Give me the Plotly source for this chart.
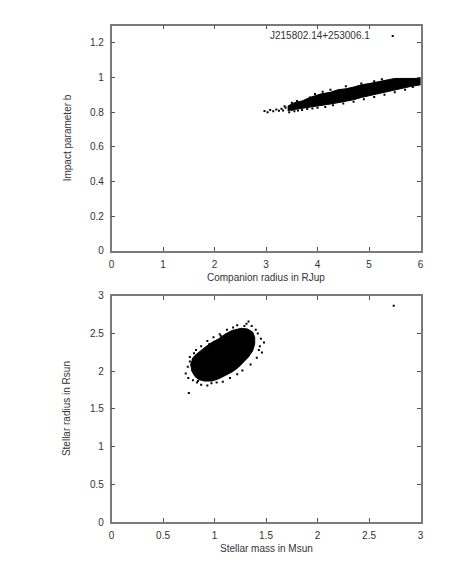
import plotly.graph_objects as go

# ---- data ----
# top panel: outline of the dense core of the (companion radius, impact parameter) cloud
core_r = [3.42, 3.55, 3.7, 3.85, 4.06, 4.25, 4.4, 4.55, 4.7, 4.85, 5.0, 5.15, 5.33, 5.5, 6.0,
          6.0, 5.8, 5.6, 5.33, 5.15, 5.0, 4.85, 4.7, 4.55, 4.4, 4.2, 4.06, 3.85, 3.7, 3.55, 3.42]
core_b = [0.835, 0.855, 0.865, 0.885, 0.905, 0.915, 0.93, 0.935, 0.945, 0.958, 0.965, 0.975,
          0.985, 0.995, 0.995,
          0.958, 0.948, 0.935, 0.915, 0.905, 0.895, 0.885, 0.872, 0.862, 0.855, 0.845,
          0.838, 0.83, 0.822, 0.815, 0.81]
# top panel: sparse samples outside the core
sparse_r = [2.97, 3.03, 3.08, 3.14, 3.2, 3.25, 3.3, 3.33, 3.38, 3.36, 3.45, 3.5, 3.55,
            3.62, 3.7, 3.8, 3.9, 4.0, 4.15, 4.3, 4.5, 4.7, 4.9, 5.1, 5.3, 5.5, 5.7,
            5.85, 3.6, 3.85, 4.1, 4.25, 4.55, 4.85, 5.1, 5.25, 3.5, 3.95, 5.46]
sparse_b = [0.807, 0.80, 0.812, 0.805, 0.815, 0.808, 0.82, 0.81, 0.825, 0.835, 0.80,
            0.812, 0.805, 0.81, 0.812, 0.818, 0.822, 0.826, 0.83, 0.84, 0.85, 0.86,
            0.875, 0.888, 0.9, 0.915, 0.93, 0.945, 0.865, 0.885, 0.918, 0.93, 0.95,
            0.965, 0.978, 0.99, 0.855, 0.905, 1.24]

# bottom panel: outline of the dense core of the (stellar mass, stellar radius) cloud
blob_m = [0.767, 0.78, 0.81, 0.846, 0.90, 0.975, 1.04, 1.10, 1.17, 1.23, 1.28, 1.33,
          1.37, 1.39, 1.39, 1.37, 1.32, 1.26, 1.17, 1.10, 1.04, 0.97, 0.91, 0.86,
          0.81, 0.78]
blob_r = [2.10, 2.00, 1.93, 1.89, 1.87, 1.87, 1.90, 1.94, 1.99, 2.05, 2.12, 2.19,
          2.27, 2.36, 2.45, 2.52, 2.56, 2.57, 2.54, 2.49, 2.43, 2.38, 2.32, 2.27,
          2.21, 2.16]
# bottom panel: sparse samples outside the core
loose_m = [0.72, 0.74, 0.745, 0.75, 0.76, 0.79, 0.80, 0.83, 0.87, 0.93, 0.97, 1.02,
           1.08, 1.15, 1.22, 1.27, 1.35, 1.41, 1.43, 1.48, 1.45, 1.42, 1.40, 1.36,
           1.31, 1.33, 1.22, 1.18, 1.12, 1.05, 0.99, 0.93, 0.87, 0.82, 0.80, 0.76,
           1.44, 1.46, 1.29, 0.95, 1.06, 0.84, 2.74]
loose_r = [1.97, 2.06, 1.91, 1.71, 2.13, 1.88, 2.17, 1.85, 1.82, 1.81, 1.84, 1.85,
           1.86, 1.91, 1.96, 2.01, 2.09, 2.18, 2.28, 2.38, 2.43, 2.50, 2.55, 2.60,
           2.63, 2.66, 2.61, 2.58, 2.55, 2.49, 2.45, 2.40, 2.33, 2.28, 2.24, 2.19,
           2.33, 2.25, 2.60, 2.36, 2.47, 1.87, 2.87]

top_xticks = [0, 1, 2, 3, 4, 5, 6]
top_yticks = [0, 0.2, 0.4, 0.6, 0.8, 1, 1.2]
bot_xticks = [0, 0.5, 1, 1.5, 2, 2.5, 3]
bot_yticks = [0, 0.5, 1, 1.5, 2, 2.5, 3]

W, H = 463, 576


def px(x):
    return x / W


def py(y):
    return 1 - y / H


FONT = "Liberation Sans, Arial, sans-serif"
TXT = "#333333"

fig = go.Figure()
fig.add_trace(go.Scatter(x=core_r, y=core_b, mode="lines", fill="toself",
                         fillcolor="black", line=dict(width=1, color="black"),
                         xaxis="x", yaxis="y", hoverinfo="skip"))
fig.add_trace(go.Scatter(x=sparse_r, y=sparse_b, mode="markers",
                         marker=dict(size=2, color="black", symbol="square"),
                         xaxis="x", yaxis="y"))
fig.add_trace(go.Scatter(x=blob_m, y=blob_r, mode="lines", fill="toself",
                         fillcolor="black", line=dict(width=1, color="black"),
                         xaxis="x2", yaxis="y2", hoverinfo="skip"))
fig.add_trace(go.Scatter(x=loose_m, y=loose_r, mode="markers",
                         marker=dict(size=2, color="black", symbol="square"),
                         xaxis="x2", yaxis="y2"))

xd = [px(110), px(423)]
top_yd = [py(250), py(20)]
bot_yd = [py(527), py(296)]

axis_common = dict(showline=True, linecolor="#7a7a7a", linewidth=1.5, mirror="ticks",
                   ticks="inside", ticklen=4, tickcolor="#555555", tickwidth=1,
                   showgrid=False, zeroline=False,
                   tickfont=dict(family=FONT, size=10, color=TXT))

fig.update_layout(
    width=W, height=H, showlegend=False,
    paper_bgcolor="white", plot_bgcolor="white",
    margin=dict(l=0, r=0, t=0, b=0),
    xaxis=dict(domain=xd, range=[0, 6], tickvals=top_xticks, anchor="y",
               ticklabelstandoff=3, **axis_common),
    yaxis=dict(domain=top_yd, range=[0, 1.3], tickvals=top_yticks, anchor="x",
               ticklabelstandoff=4, **axis_common),
    xaxis2=dict(domain=xd, range=[0, 3], tickvals=bot_xticks, anchor="y2",
                ticklabelstandoff=3, **axis_common),
    yaxis2=dict(domain=bot_yd, range=[0, 3], tickvals=bot_yticks, anchor="x2",
                ticklabelstandoff=4, **axis_common),
)

tf = dict(family=FONT, size=10, color=TXT)
common_ann = dict(xref="paper", yref="paper", showarrow=False, font=tf,
                  xanchor="center", yanchor="middle")
fig.add_annotation(text="Companion radius in RJup", x=px(266.5), y=py(277), **common_ann)
fig.add_annotation(text="Impact parameter b", x=px(65), y=py(135), textangle=-90, **common_ann)
fig.add_annotation(text="Stellar mass in Msun", x=px(266.5), y=py(554), **common_ann)
fig.add_annotation(text="Stellar radius in Rsun", x=px(65), y=py(411.5), textangle=-90, **common_ann)
fig.add_annotation(text="J215802.14+253006.1", xref="x", yref="y",
                   x=5.05, y=1.24, xanchor="right", yanchor="middle",
                   showarrow=False, font=tf)

fig.write_html("out.html",
               config={"displayModeBar": False},
               post_script="document.body.style.margin='0';"
                           "document.body.style.overflow='hidden';")
